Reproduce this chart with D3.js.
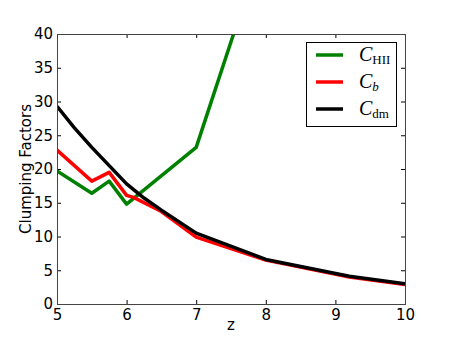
<!DOCTYPE html>
<html>
<head>
<meta charset="utf-8">
<script src="https://cdn.jsdelivr.net/npm/d3@7"></script>
<style>
  body { margin: 0; background: #fff; }
  svg { font-family: "DejaVu Sans", sans-serif; }
</style>
</head>
<body>
<div id="chart"></div>
<script>
// redshift samples
const zHII = [5, 5.5, 5.75, 6, 7, 8];
const cHII = [19.7, 16.4, 18.2, 14.8, 23.2, 54.5];

const zB = [5, 5.5, 5.75, 6, 6.1, 6.5, 7, 8, 9.2, 10];
const cB = [22.8, 18.2, 19.5, 16.1, 15.8, 13.7, 9.9, 6.5, 4.0, 2.9];

const zDM = [5, 5.25, 5.5, 5.75, 6, 6.25, 6.5, 7, 8, 9.2, 10];
const cDM = [29.3, 26.1, 23.2, 20.5, 17.8, 15.7, 13.9, 10.5, 6.6, 4.1, 3.0];

const xTicks = [5, 6, 7, 8, 9, 10];
const yTicks = [0, 5, 10, 15, 20, 25, 30, 35, 40];

const W = 450, H = 338;
const m = {left: 57, right: 45, top: 34, bottom: 34};
const iw = W - m.left - m.right, ih = H - m.top - m.bottom;

const svg = d3.select("#chart").append("svg")
    .attr("width", W).attr("height", H);

const x = d3.scaleLinear().domain([5, 10]).range([0, iw]);
const y = d3.scaleLinear().domain([0, 40]).range([ih, 0]);

const g = svg.append("g").attr("transform", `translate(${m.left},${m.top})`);

svg.append("defs").append("clipPath").attr("id", "clip")
    .append("rect").attr("width", iw).attr("height", ih);

const line = d3.line().x(d => x(d[0])).y(d => y(d[1]));

const series = [
    {name: "HII", z: zHII, c: cHII, color: "#008000"},
    {name: "b", z: zB, c: cB, color: "#ff0000"},
    {name: "dm", z: zDM, c: cDM, color: "#000000"}
];

const plot = g.append("g").attr("clip-path", "url(#clip)");
series.forEach(s => {
    plot.append("path")
        .datum(s.z.map((v, i) => [v, s.c[i]]))
        .attr("d", line)
        .attr("fill", "none")
        .attr("stroke", s.color)
        .attr("stroke-width", 3.5)
        .attr("stroke-linejoin", "round");
});

// inward ticks on all four sides, matplotlib style
const tk = 4;
g.append("g").attr("transform", `translate(0,${ih})`)
    .call(d3.axisBottom(x).tickValues(xTicks).tickFormat(d3.format("d"))
        .tickSizeInner(-tk).tickSizeOuter(0).tickPadding(5));
g.append("g")
    .call(d3.axisTop(x).tickValues(xTicks).tickSizeInner(-tk).tickSizeOuter(0).tickFormat(""));
g.append("g")
    .call(d3.axisLeft(y).tickValues(yTicks).tickSizeInner(-tk).tickSizeOuter(0).tickPadding(4));
g.append("g").attr("transform", `translate(${iw},0)`)
    .call(d3.axisRight(y).tickValues(yTicks).tickSizeInner(-tk).tickSizeOuter(0).tickFormat(""));

g.selectAll(".domain").remove();
g.selectAll(".tick line").attr("stroke", "#000").attr("stroke-width", 1);
g.selectAll(".tick text").attr("font-size", 15).attr("fill", "#000")
    .style("font-family", "DejaVu Sans, sans-serif");

g.append("rect").attr("x", 0.5).attr("y", 0.5)
    .attr("width", iw).attr("height", ih)
    .attr("fill", "none").attr("stroke", "#444").attr("stroke-width", 1);

// axis labels
svg.append("text")
    .attr("x", m.left + iw / 2).attr("y", 330)
    .attr("text-anchor", "middle").attr("font-size", 15)
    .text("z");
svg.append("text")
    .attr("transform", `translate(31,${m.top + ih / 2}) rotate(-90)`)
    .attr("text-anchor", "middle").attr("font-size", 15)
    .text("Clumping Factors");

// legend
const lg = svg.append("g").attr("transform", "translate(306,42)");
lg.append("rect").attr("x", 0.5).attr("y", 0.5).attr("width", 90).attr("height", 84)
    .attr("fill", "#fff").attr("stroke", "#000").attr("stroke-width", 1);
series.forEach((s, i) => {
    const yy = 13 + i * 27;
    lg.append("line").attr("x1", 10).attr("x2", 37).attr("y1", yy).attr("y2", yy)
        .attr("stroke", s.color).attr("stroke-width", 3.5);
    const t = lg.append("text").attr("x", 53).attr("y", yy + 6)
        .style("font-family", "'Liberation Serif', 'DejaVu Serif', serif");
    t.append("tspan").attr("font-style", "italic").attr("font-size", 20).text("C");
    t.append("tspan").attr("font-size", 13).attr("dy", 3)
        .attr("font-style", s.name === "b" ? "italic" : "normal").text(s.name);
});
</script>
</body>
</html>
